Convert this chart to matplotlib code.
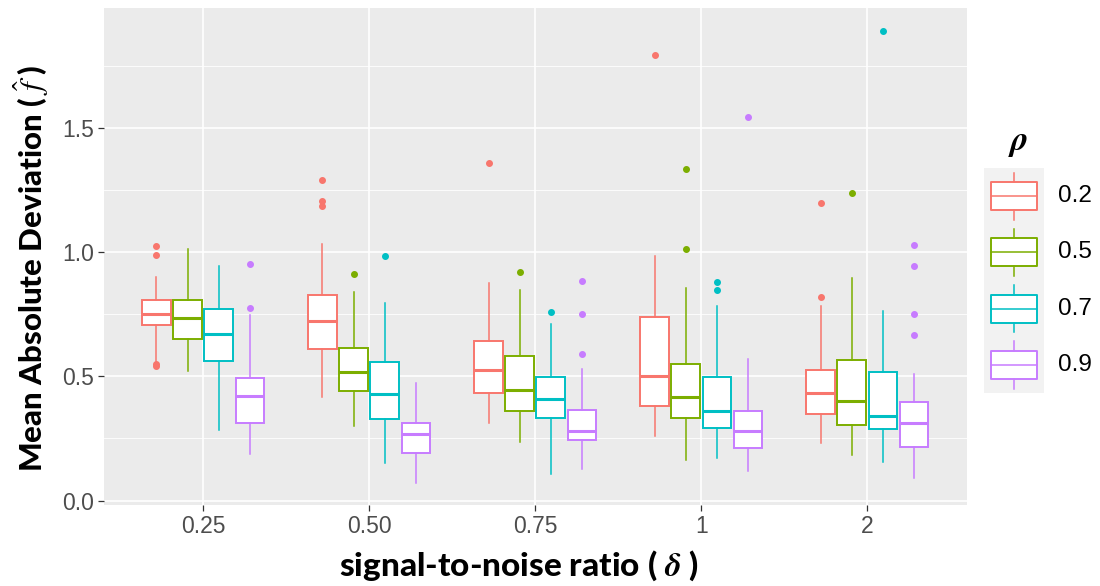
import matplotlib
matplotlib.use("Agg")
import matplotlib.pyplot as plt
import numpy as np

plt.rcParams["mathtext.fontset"] = "stix"

# data (box statistics per snr level and rho)
snr_levels = ["0.25", "0.50", "0.75", "1", "2"]
rho_levels = ["0.2", "0.5", "0.7", "0.9"]
colors = ["#F8766D", "#7CAE00", "#00BFC4", "#C77CFF"]

# each row: [whislo, q1, med, q3, whishi] for snr levels in order
rho02_stats = [[0.56, 0.708, 0.750, 0.808, 0.900],
               [0.416, 0.609, 0.724, 0.826, 1.032],
               [0.310, 0.431, 0.526, 0.643, 0.876],
               [0.259, 0.379, 0.503, 0.739, 0.982],
               [0.230, 0.347, 0.434, 0.524, 0.781]]
rho05_stats = [[0.520, 0.649, 0.734, 0.808, 1.013],
               [0.301, 0.442, 0.519, 0.613, 0.839],
               [0.236, 0.361, 0.445, 0.583, 0.847],
               [0.165, 0.333, 0.418, 0.548, 0.855],
               [0.184, 0.304, 0.400, 0.566, 0.894]]
rho07_stats = [[0.285, 0.561, 0.672, 0.772, 0.944],
               [0.151, 0.329, 0.428, 0.557, 0.794],
               [0.105, 0.333, 0.409, 0.499, 0.709],
               [0.171, 0.292, 0.359, 0.497, 0.781],
               [0.153, 0.288, 0.340, 0.517, 0.763]]
rho09_stats = [[0.189, 0.313, 0.422, 0.494, 0.747],
               [0.071, 0.190, 0.266, 0.310, 0.473],
               [0.125, 0.245, 0.278, 0.365, 0.529],
               [0.117, 0.213, 0.278, 0.359, 0.568],
               [0.089, 0.215, 0.310, 0.395, 0.508]]

rho02_out = [[1.023, 0.99, 0.548, 0.540], [1.289, 1.205, 1.185], [1.359], [1.793], [1.198, 0.820]]
rho05_out = [[], [0.910], [0.919], [1.335, 1.012], [1.236]]
rho07_out = [[], [0.983], [0.757], [0.881, 0.847], [1.888]]
rho09_out = [[0.950, 0.776], [], [0.883, 0.751, 0.589], [1.542], [1.029, 0.945, 0.749, 0.665]]

all_stats = [rho02_stats, rho05_stats, rho07_stats, rho09_stats]
all_out = [rho02_out, rho05_out, rho07_out, rho09_out]

fig = plt.figure(figsize=(11, 5.86), dpi=100)
ax = fig.add_axes([0.0941, 0.1374, 0.7849, 0.8481])
ax.set_facecolor("#EBEBEB")

dodge = 0.75 / len(rho_levels)
x = np.arange(1, len(snr_levels) + 1)
for i, (stats, outs, col) in enumerate(zip(all_stats, all_out, colors)):
    offset = (i - 1.5) * dodge
    bxp_stats = []
    for s, o in zip(stats, outs):
        bxp_stats.append(dict(whislo=s[0], q1=s[1], med=s[2], q3=s[3], whishi=s[4], fliers=o))
    ax.bxp(bxp_stats, positions=x + offset, widths=0.172, patch_artist=True,
           showcaps=False, manage_ticks=False,
           boxprops=dict(facecolor="white", edgecolor=col, linewidth=1.4),
           whiskerprops=dict(color=col, linewidth=1.1),
           medianprops=dict(color=col, linewidth=2.2),
           flierprops=dict(marker="o", markerfacecolor=col, markeredgecolor=col,
                           markersize=4.0, linestyle="none"),
           zorder=3)

ax.set_xlim(0.4, len(snr_levels) + 0.6)
ax.set_ylim(-0.02, 1.98)
ax.set_xticks(x)
ax.set_xticklabels(snr_levels)
ax.set_yticks([0.0, 0.5, 1.0, 1.5])
ax.set_yticklabels(["0.0", "0.5", "1.0", "1.5"])
ax.set_yticks([0.25, 0.75, 1.25, 1.75], minor=True)
ax.grid(which="major", color="white", linewidth=1.2, zorder=0)
ax.grid(which="minor", axis="y", color="white", linewidth=0.6, zorder=0)
ax.set_axisbelow(True)
for sp in ax.spines.values():
    sp.set_visible(False)
ax.tick_params(which="major", length=4, width=0.9, color="#333333",
               labelsize=16.5, labelcolor="#4D4D4D", pad=3)
ax.tick_params(which="minor", length=0)
for lab in ax.get_xticklabels() + ax.get_yticklabels():
    lab.set_family("Liberation Sans")

fig.text(0.028, 0.542, r"Mean Absolute Deviation ( $\hat{f}$ )", rotation=90,
         ha="center", va="center", fontsize=22.5, fontweight="black", family="Lato")
fig.text(0.472, 0.034, r"signal-to-noise ratio ( $\boldsymbol{\delta}$ )",
         ha="center", va="center", fontsize=24, fontweight="black", family="Lato")

# legend drawn as small boxplot glyphs
lax = fig.add_axes([984 / 1100, 1 - 393 / 586, 60 / 1100, 225 / 586])
lax.set_facecolor("#F2F2F2")
lax.set_xlim(0, 1)
lax.set_ylim(len(rho_levels), 0)
for sp in lax.spines.values():
    sp.set_visible(False)
lax.set_xticks([])
lax.set_yticks([])
for i, (lab, col) in enumerate(zip(rho_levels, colors)):
    c = i + 0.5
    lax.fill_between([0.12, 0.88], c - 0.25, c + 0.25, facecolor="white",
                     edgecolor=col, linewidth=1.4)
    lax.plot([0.12, 0.88], [c, c], color=col, linewidth=1.1)
    lax.plot([0.5, 0.5], [c - 0.25, c - 0.42], color=col, linewidth=1.1)
    lax.plot([0.5, 0.5], [c + 0.25, c + 0.42], color=col, linewidth=1.1)
    fig.text(1058 / 1100, 1 - (168 + 56.25 * c) / 586, lab, ha="left", va="center",
             fontsize=17.5, family="Liberation Sans", color="black")
fig.text(1018 / 1100, 1 - 142 / 586, r"$\boldsymbol{\rho}$", ha="center", va="center",
         fontsize=25)

fig.savefig("out.png", dpi=100)
